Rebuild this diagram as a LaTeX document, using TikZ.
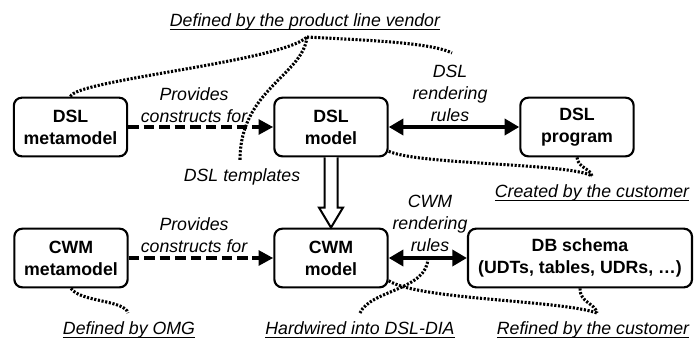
\documentclass[tikz,border=0pt]{standalone}
\usepackage{fontspec}
\setmainfont{Liberation Sans}
\usetikzlibrary{arrows.meta,calc}
\newcommand\myul[1]{\setbox0\hbox{#1}\leavevmode\rlap{\copy0}\raisebox{-3pt}{\rule{\wd0}{1.1pt}}}
\begin{document}
\begin{tikzpicture}[x=0.75pt,y=-0.75pt,
  box/.style={draw,line width=1.6pt,rounded corners=6pt,minimum width=85pt,minimum height=44pt,inner sep=0pt,align=center,font=\fontsize{13.3}{16.5}\selectfont\bfseries},
  lbl/.style={align=center,inner sep=0pt,font=\fontsize{13.3}{16.5}\selectfont\itshape},
  dasharrow/.style={line width=2.8pt,dash pattern=on 8pt off 3.6pt,-{Triangle[length=11pt,width=11pt]}},
  biarrow/.style={line width=2.8pt,{Triangle[length=11pt,width=12pt]}-{Triangle[length=11pt,width=12pt]}},
  dots/.style={line width=2.3pt,dash pattern=on 1.6pt off 1.2pt},
  blockarrow/.style={draw,line width=1.5pt,fill=white,line join=miter}]
\useasboundingbox (0,0) rectangle (694,340);

% boxes
\node[box] (dslmeta) at (70.5,127) {DSL\\metamodel};
\node[box] (dslmodel) at (331,127) {DSL\\model};
\node[box] (dslprog) at (577,127) {DSL\\program};
\node[box] (cwmmeta) at (71,258) {CWM\\metamodel};
\node[box] (cwmmodel) at (331,258) {CWM\\model};
\node[box,minimum width=168pt] (dbschema) at (580,258) {DB schema\\(UDTs, tables, UDRs, \dots)};

% labels
\node[lbl] (prov1) at (194,105) {Provides\\constructs for};
\node[lbl] (rend1) at (450,93) {DSL\\rendering\\rules};
\node[lbl] (tmpl) at (242,177) {DSL templates};
\node[lbl] (prov2) at (194,235) {Provides\\constructs for};
\node[lbl] (rend2) at (430,223) {CWM\\rendering\\rules};

\node[lbl] (vendor) at (305,22) {\myul{Defined by the product line vendor}};
\node[lbl] (created) at (592,193) {\myul{Created by the customer}};
\node[lbl] (omg) at (129,330) {\myul{Defined by OMG}};
\node[lbl] (hard) at (360,330) {\myul{Hardwired into DSL-DIA}};
\node[lbl] (refined) at (593,330) {\myul{Refined by the customer}};

% arrows
\draw[dasharrow] (dslmeta.east) -- (dslmodel.west);
\draw[dasharrow] (cwmmeta.east) -- (cwmmodel.west);
\draw[biarrow] (dslmodel.east) -- (dslprog.west);
\draw[biarrow] (cwmmodel.east) -- (dbschema.west);
\draw[blockarrow] ($(dslmodel.south)+(-6.5,0)$) -- ($(cwmmodel.north)+(-6.5,-20)$) -- ($(cwmmodel.north)+(-12,-20)$) -- (cwmmodel.north) -- ($(cwmmodel.north)+(12,-20)$) -- ($(cwmmodel.north)+(6.5,-20)$) -- ($(dslmodel.south)+(6.5,0)$);

% dotted annotation curves
\coordinate (vendorpt) at (307,37);
\coordinate (tmplpt) at (240,160);
\coordinate (rulept) at (452,53);
\coordinate (custpt) at (592,176);
\coordinate (omgpt) at (128,313);
\coordinate (hardpt) at (360,313);
\coordinate (refpt) at (597,313);

\draw[dots] (dslmeta.north) .. controls (75,80) and (280,62) .. (vendorpt);
\draw[dots] (vendorpt) .. controls (303,75) and (240,90) .. (tmplpt);
\draw[dots] (vendorpt) .. controls (360,40) and (430,42) .. (rulept);
\draw[dots] ($(dslmodel.east)!0.8!(dslmodel.south east)$) .. controls (420,165) and (570,163) .. (custpt);
\draw[dots] (dslprog.south) .. controls (578,168) and (590,168) .. (custpt);
\draw[dots] (cwmmeta.south) .. controls (80,302) and (125,300) .. (omgpt);
\draw[dots] ($(cwmmodel.east)!0.5!(dbschema.west)$) .. controls (428,290) and (370,290) .. (hardpt);
\draw[dots] ($(cwmmodel.east)!0.75!(cwmmodel.south east)$) .. controls (420,300) and (560,300) .. (refpt);
\draw[dots] (dbschema.south) .. controls (580,303) and (595,303) .. (refpt);
\end{tikzpicture}
\end{document}
